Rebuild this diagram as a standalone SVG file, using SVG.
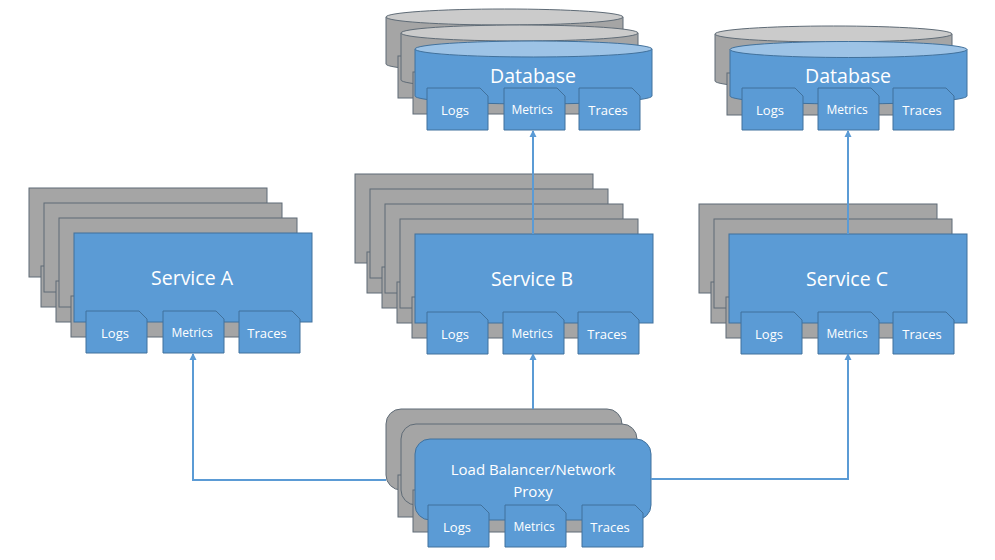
<svg xmlns="http://www.w3.org/2000/svg" xmlns:xlink="http://www.w3.org/1999/xlink" width="995" height="560" viewBox="0 0 995 560">
<style>
.blue{fill:#5b9bd5;stroke:#41719c;stroke-width:1}
.cap{fill:#9dc3e6;stroke:#41719c;stroke-width:1}
.gray{fill:#a5a5a5;stroke:#5f6b76;stroke-width:1}
.gcap{fill:#cbcbcb;stroke:#5f6b76;stroke-width:1}
.t{font-family:"Open Sans","Liberation Sans",sans-serif;fill:#ffffff;text-anchor:middle}
.big{font-size:19.5px}
.lb{font-size:15px}
.sm{font-size:13px}
.xs{font-size:12px}
.conn{fill:none;stroke:#5b9bd5;stroke-width:2}
</style>
<defs>
<marker id="arr" markerWidth="8" markerHeight="8" refX="6" refY="4" orient="auto" markerUnits="userSpaceOnUse">
<path d="M0,0.5 L7,4 L0,7.5 Z" fill="#5b9bd5"/>
</marker>
<path id="box" d="M0,0 H53 L61,8 V42 H0 Z"/>
<g id="svcGray" class="gray"><rect x="0" y="0" width="238" height="89"/><rect x="12" y="78" width="213" height="41"/></g>
<g id="dbGray"><path class="gray" d="M0,0 V47 A118.5,8 0 0 0 237,47 V0 Z"/><ellipse class="gcap" cx="118.5" cy="0" rx="118.5" ry="8"/><rect class="gray" x="12" y="39" width="213" height="42"/></g>
<g id="lbGray" class="gray"><rect x="0" y="0" width="236" height="81" rx="15"/><rect x="12" y="66" width="214" height="42"/></g>
</defs>

<g id="service-a">
<use xlink:href="#svcGray" x="29" y="188"/>
<use xlink:href="#svcGray" x="44" y="203"/>
<use xlink:href="#svcGray" x="59" y="218"/>
<rect class="blue" x="74" y="233" width="238" height="89"/>
<text class="t big" x="192" y="285">Service A</text>
<use xlink:href="#box" class="blue" x="86" y="311"/>
<use xlink:href="#box" class="blue" x="163" y="311"/>
<use xlink:href="#box" class="blue" x="239" y="311"/>
<text class="t sm" x="115" y="338">Logs</text>
<text class="t xs" x="192" y="337">Metrics</text>
<text class="t sm" x="267" y="338">Traces</text>
</g>

<g id="service-b">
<use xlink:href="#svcGray" x="355" y="174"/>
<use xlink:href="#svcGray" x="370" y="189"/>
<use xlink:href="#svcGray" x="385" y="204"/>
<use xlink:href="#svcGray" x="400" y="219"/>
<rect class="blue" x="415" y="234" width="238" height="89"/>
<text class="t big" x="532" y="286">Service B</text>
<use xlink:href="#box" class="blue" x="427" y="312"/>
<use xlink:href="#box" class="blue" x="503" y="312"/>
<use xlink:href="#box" class="blue" x="578" y="312"/>
<text class="t sm" x="455" y="339">Logs</text>
<text class="t xs" x="532" y="338">Metrics</text>
<text class="t sm" x="607" y="339">Traces</text>
</g>

<g id="service-c">
<use xlink:href="#svcGray" x="699" y="204"/>
<use xlink:href="#svcGray" x="714" y="219"/>
<rect class="blue" x="729" y="234" width="238" height="89"/>
<text class="t big" x="847" y="286">Service C</text>
<use xlink:href="#box" class="blue" x="741" y="312"/>
<use xlink:href="#box" class="blue" x="818" y="312"/>
<use xlink:href="#box" class="blue" x="893" y="312"/>
<text class="t sm" x="769" y="339">Logs</text>
<text class="t xs" x="847" y="338">Metrics</text>
<text class="t sm" x="922" y="339">Traces</text>
</g>

<g id="database-1">
<use xlink:href="#dbGray" x="386" y="17"/>
<use xlink:href="#dbGray" x="401" y="33"/>
<path class="blue" d="M415,49 V96 A118.5,8 0 0 0 652,96 V49 Z"/>
<ellipse class="cap" cx="533.5" cy="49" rx="118.5" ry="8"/>
<text class="t big" x="533" y="83">Database</text>
<use xlink:href="#box" class="blue" x="427" y="88"/>
<use xlink:href="#box" class="blue" x="504" y="88"/>
<use xlink:href="#box" class="blue" x="579" y="88"/>
<text class="t sm" x="455" y="115">Logs</text>
<text class="t xs" x="532" y="114">Metrics</text>
<text class="t sm" x="608" y="115">Traces</text>
</g>

<g id="database-2">
<use xlink:href="#dbGray" x="715" y="34"/>
<path class="blue" d="M730,49.5 V96 A118.5,8 0 0 0 967,96 V49.5 Z"/>
<ellipse class="cap" cx="848.5" cy="49.5" rx="118.5" ry="8"/>
<text class="t big" x="848" y="83">Database</text>
<use xlink:href="#box" class="blue" x="742" y="88"/>
<use xlink:href="#box" class="blue" x="818" y="88"/>
<use xlink:href="#box" class="blue" x="893" y="88"/>
<text class="t sm" x="770" y="115">Logs</text>
<text class="t xs" x="847" y="114">Metrics</text>
<text class="t sm" x="922" y="115">Traces</text>
</g>

<g id="load-balancer">
<use xlink:href="#lbGray" x="386" y="409"/>
<use xlink:href="#lbGray" x="401" y="424"/>
<rect class="blue" x="415" y="439" width="236" height="81" rx="15"/>
<text class="t lb" x="533" y="475">Load Balancer/Network</text>
<text class="t lb" x="533" y="497">Proxy</text>
<use xlink:href="#box" class="blue" x="428" y="505"/>
<use xlink:href="#box" class="blue" x="505" y="505"/>
<use xlink:href="#box" class="blue" x="582" y="505"/>
<text class="t sm" x="457" y="532">Logs</text>
<text class="t xs" x="534" y="531">Metrics</text>
<text class="t sm" x="610" y="532">Traces</text>
</g>

<g id="connectors">
<path class="conn" d="M533,409 V354" marker-end="url(#arr)"/>
<path class="conn" d="M533,234 V131" marker-end="url(#arr)"/>
<path class="conn" d="M848,234 V131" marker-end="url(#arr)"/>
<path class="conn" d="M386,480 H193 V354" marker-end="url(#arr)"/>
<path class="conn" d="M651,479 H848 V354" marker-end="url(#arr)"/>
</g>
</svg>
